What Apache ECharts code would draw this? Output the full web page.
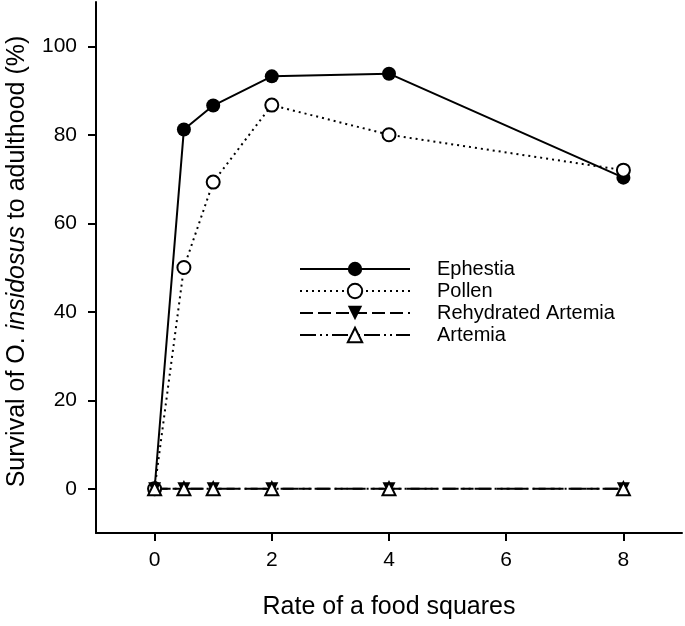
<!DOCTYPE html>
<html>
<head>
<meta charset="utf-8">
<script src="https://cdn.jsdelivr.net/npm/echarts@6/dist/echarts.min.js"></script>
<style>
html,body{margin:0;padding:0;background:#fff;}
#c{width:685px;height:626px;}
</style>
</head>
<body>
<div id="c"></div>
<script>
var rates = [0, 0.5, 1, 2, 4, 8];
var ephestia = [0, 81.2, 86.6, 93.2, 93.8, 70.3];
var pollen = [0, 50.0, 69.3, 86.7, 80.0, 72.0];
var rehydratedArtemia = [0, 0, 0, 0, 0, 0];
var artemia = [0, 0, 0, 0, 0, 0];
var xTicks = [0, 2, 4, 6, 8];
var yTicks = [0, 20, 40, 60, 80, 100];
var seriesNames = ['Ephestia', 'Pollen', 'Rehydrated Artemia', 'Artemia'];

function pairs(vals) {
  return rates.map(function (r, i) { return [r, vals[i]]; });
}

var FONT = 'Liberation Sans';
var chart = echarts.init(document.getElementById('c'), null, {renderer: 'canvas'});
chart.setOption({
  animation: false,
  backgroundColor: '#fff',
  grid: {left: 96, right: 3, top: 2, bottom: 93, containLabel: false, outerBoundsMode: 'none'},
  legend: {
    left: 294, top: 254, orient: 'vertical',
    itemWidth: 110, itemHeight: 18, itemGap: 2,
    selectedMode: false,
    data: seriesNames,
    textStyle: {fontFamily: FONT, fontSize: 20, color: '#000', lineHeight: 20, padding: [0, 0, 0, 22]}
  },
  xAxis: {
    type: 'value', min: -1, max: 9, interval: 1,
    name: 'Rate of a food squares', nameLocation: 'middle', nameGap: 62,
    nameMoveOverlap: false,
    nameTextStyle: {fontFamily: FONT, fontSize: 25, color: '#000'},
    axisLine: {show: true, onZero: false, lineStyle: {color: '#000', width: 2}},
    axisTick: {show: true, length: 8, customValues: xTicks, lineStyle: {color: '#000', width: 2}},
    axisLabel: {
      fontFamily: FONT, fontSize: 21, color: '#000', margin: 17,
      showMinLabel: false, showMaxLabel: false, hideOverlap: false,
      formatter: function (v) { return xTicks.indexOf(v) >= 0 ? String(v) : ''; }
    },
    splitLine: {show: false}
  },
  yAxis: {
    type: 'value', min: -10, max: 110, interval: 10,
    name: '{a|Survival of O. }{b|insidosus}{a| to adulthood (%)}',
    nameLocation: 'middle', nameGap: 66,
    nameMoveOverlap: false,
    nameTextStyle: {
      fontFamily: FONT, fontSize: 25, color: '#000', padding: [0, 0, 0, 12],
      rich: {
        a: {fontFamily: FONT, fontSize: 25, color: '#000'},
        b: {fontFamily: FONT, fontSize: 25, color: '#000', fontStyle: 'italic'}
      }
    },
    axisLine: {show: true, onZero: false, lineStyle: {color: '#000', width: 2}},
    axisTick: {show: true, length: 8, customValues: yTicks, lineStyle: {color: '#000', width: 2}},
    axisLabel: {
      fontFamily: FONT, fontSize: 21, color: '#000', margin: 19,
      showMinLabel: false, showMaxLabel: false, hideOverlap: false,
      formatter: function (v) { return yTicks.indexOf(v) >= 0 ? String(v) : ''; }
    },
    splitLine: {show: false}
  },
  series: [
    {
      name: seriesNames[0], type: 'line', data: pairs(ephestia),
      symbol: 'circle', symbolSize: 14, showAllSymbol: true,
      itemStyle: {color: '#000'},
      lineStyle: {color: '#000', width: 2, type: 'solid'}
    },
    {
      name: seriesNames[1], type: 'line', data: pairs(pollen),
      symbol: 'circle', symbolSize: 13, showAllSymbol: true,
      itemStyle: {color: '#fff', borderColor: '#000', borderWidth: 2},
      lineStyle: {color: '#000', width: 2, type: [2, 4]}
    },
    {
      name: seriesNames[2], type: 'line', data: pairs(rehydratedArtemia),
      symbol: 'triangle', symbolRotate: 180, symbolSize: 13, showAllSymbol: true,
      itemStyle: {color: '#000'},
      lineStyle: {color: '#000', width: 2, type: [13, 5]}
    },
    {
      name: seriesNames[3], type: 'line', data: pairs(artemia),
      symbol: 'triangle', symbolSize: 13, showAllSymbol: true,
      itemStyle: {color: '#fff', borderColor: '#000', borderWidth: 2},
      lineStyle: {color: '#000', width: 2, type: [16, 4, 2, 4, 2, 4]}
    }
  ]
});
</script>
</body>
</html>
